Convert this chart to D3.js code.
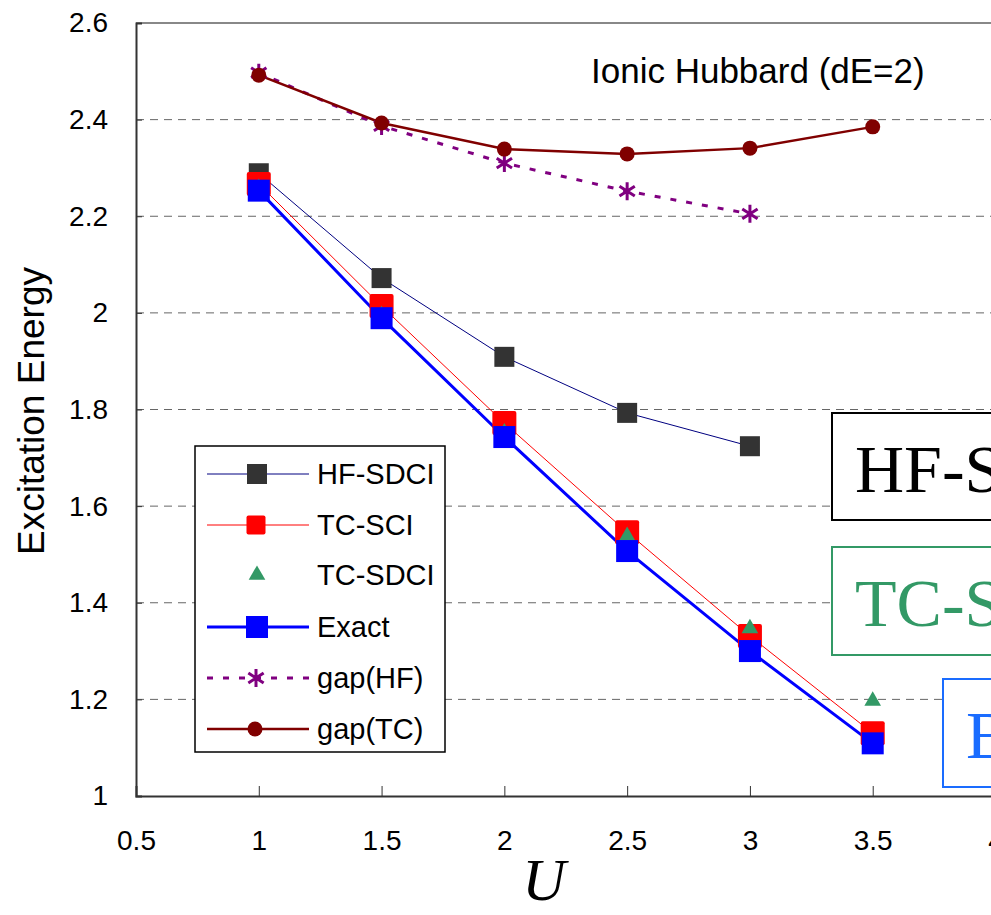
<!DOCTYPE html>
<html><head><meta charset="utf-8">
<script src="https://cdn.jsdelivr.net/npm/d3@7"></script>
<style>body{margin:0;background:#fff;overflow:hidden}svg{display:block}</style>
</head><body>
<script>
const U = [1, 1.5, 2, 2.5, 3, 3.5];
const hfSdci = [2.289, 2.072, 1.909, 1.793, 1.724];
const tcSci = [2.267, 2.014, 1.772, 1.546, 1.331, 1.130];
const tcSdci = [2.258, 1.995, 1.752, 1.538, 1.347, 1.197];
const exact = [2.253, 1.989, 1.743, 1.507, 1.300, 1.109];
const gapHF = [2.497, 2.387, 2.310, 2.252, 2.205];
const gapTC = [2.492, 2.393, 2.339, 2.329, 2.341, 2.385];
const xTicks = [0.5, 1, 1.5, 2, 2.5, 3, 3.5, 4];
const yTicks = [1, 1.2, 1.4, 1.6, 1.8, 2, 2.2, 2.4, 2.6];
const legendNames = ["HF-SDCI", "TC-SCI", "TC-SDCI", "Exact", "gap(HF)", "gap(TC)"];
const boxLabels = ["HF-SDCI", "TC-SDCI", "Exact"];

const W = 991, H = 915;
const svg = d3.select("body").append("svg").attr("width", W).attr("height", H);
const x = d3.scaleLinear().domain([0.5, 4]).range([136, 995.5]);
const y = d3.scaleLinear().domain([1, 2.6]).range([796, 23]);

// grid
svg.append("g").selectAll("line").data(yTicks.filter(v => v > 1 && v < 2.6)).join("line")
  .attr("x1", 136).attr("x2", W).attr("y1", d => y(d)).attr("y2", d => y(d))
  .attr("stroke", "#666").attr("stroke-width", 1).attr("stroke-dasharray", "8,6");
// top border
svg.append("line").attr("x1", 136).attr("x2", W).attr("y1", 23).attr("y2", 23).attr("stroke", "#888").attr("stroke-width", 2);

// axes
const font = "'Liberation Sans', Arial, sans-serif";
const yAxis = svg.append("g").attr("transform", "translate(136,0)")
  .call(d3.axisLeft(y).tickValues(yTicks).tickFormat(d3.format("~g")).tickSize(-6).tickPadding(28));
yAxis.select(".domain").attr("stroke", "#333").attr("stroke-width", 2);
yAxis.selectAll(".tick line").attr("stroke", "#333");
yAxis.selectAll("text").attr("font-family", font).attr("font-size", 28).attr("fill", "#000");
const xAxis = svg.append("g").attr("transform", "translate(0,796)")
  .call(d3.axisBottom(x).tickValues(xTicks).tickFormat(d3.format("~g")).tickSize(-10).tickPadding(34));
xAxis.select(".domain").attr("stroke", "#333").attr("stroke-width", 2);
xAxis.selectAll(".tick line").attr("stroke", "#333");
xAxis.selectAll("text").attr("font-family", font).attr("font-size", 28).attr("fill", "#000");

svg.append("text").attr("transform", "translate(44,411) rotate(-90)").attr("text-anchor", "middle")
  .attr("font-family", font).attr("font-size", 37).text("Excitation Energy");
svg.append("text").attr("x", 544).attr("y", 900).attr("text-anchor", "middle")
  .attr("font-family", "'Liberation Serif', serif").attr("font-style", "italic").attr("font-size", 60).text("U");
svg.append("text").attr("x", 591).attr("y", 83).attr("font-family", font).attr("font-size", 35).text("Ionic Hubbard (dE=2)");

const line = d3.line().x(d => x(d[0])).y(d => y(d[1]));
const pts = arr => arr.map((v, i) => [U[i], v]);

function drawLine(arr, color, w, dash) {
  svg.append("path").datum(pts(arr)).attr("d", line).attr("fill", "none")
    .attr("stroke", color).attr("stroke-width", w).attr("stroke-dasharray", dash || null);
}
function square(g, cx, cy, s, color, r) {
  g.append("rect").attr("x", cx - s / 2).attr("y", cy - s / 2).attr("width", s).attr("height", s)
    .attr("rx", r || 0).attr("fill", color);
}
function tri(g, cx, cy, color) {
  g.append("path").attr("d", d3.symbol(d3.symbolTriangle, 120)()).attr("transform", `translate(${cx},${cy})`).attr("fill", color);
}
function star(g, cx, cy, color) {
  const r = 9;
  const p = `M0,${-r}V${r}M${-r*0.85},${-r*0.55}L${r*0.85},${r*0.55}M${r*0.85},${-r*0.55}L${-r*0.85},${r*0.55}`;
  g.append("path").attr("d", p).attr("transform", `translate(${cx},${cy})`).attr("stroke", color).attr("stroke-width", 3).attr("fill", "none");
}
function circ(g, cx, cy, color) {
  g.append("circle").attr("cx", cx).attr("cy", cy).attr("r", 7.5).attr("fill", color);
}

drawLine(gapHF, "#800080", 3, "6,10");
drawLine(gapTC, "#800000", 2.5);
drawLine(hfSdci, "#000080", 1);
drawLine(tcSci, "#ff0000", 1);
drawLine(exact, "#0000ff", 3);
const mk = svg.append("g");
gapHF.forEach((v, i) => star(mk, x(U[i]), y(v), "#800080"));
gapTC.forEach((v, i) => circ(mk, x(U[i]), y(v), "#800000"));
hfSdci.forEach((v, i) => square(mk, x(U[i]), y(v), 20, "#333333"));
tcSci.forEach((v, i) => square(mk, x(U[i]), y(v), 24, "#ff0000", 2));
tcSdci.forEach((v, i) => tri(mk, x(U[i]), y(v), "#339966"));
exact.forEach((v, i) => square(mk, x(U[i]), y(v), 22, "#0000ff"));

// legend
const lg = svg.append("g");
lg.append("rect").attr("x", 195).attr("y", 446).attr("width", 250).attr("height", 306).attr("fill", "#fff").attr("stroke", "#000").attr("stroke-width", 1.5);
const ly = [474, 525, 575, 627, 678, 729];
const lx1 = 207, lx2 = 309, lc = 257;
lg.append("line").attr("x1", lx1).attr("x2", lx2).attr("y1", ly[0]).attr("y2", ly[0]).attr("stroke", "#000080").attr("stroke-width", 1);
square(lg, lc, ly[0], 20, "#333333");
lg.append("line").attr("x1", lx1).attr("x2", lx2).attr("y1", ly[1]).attr("y2", ly[1]).attr("stroke", "#ff0000").attr("stroke-width", 1);
square(lg, lc - 1, ly[1], 19, "#ff0000", 2);
tri(lg, lc, ly[2], "#339966");
lg.append("line").attr("x1", lx1).attr("x2", lx2).attr("y1", ly[3]).attr("y2", ly[3]).attr("stroke", "#0000ff").attr("stroke-width", 3);
square(lg, lc, ly[3], 22, "#0000ff");
lg.append("line").attr("x1", lx1).attr("x2", lx2).attr("y1", ly[4]).attr("y2", ly[4]).attr("stroke", "#800080").attr("stroke-width", 3).attr("stroke-dasharray", "6,10");
star(lg, lc - 1, ly[4], "#800080");
lg.append("line").attr("x1", lx1).attr("x2", lx2).attr("y1", ly[5]).attr("y2", ly[5]).attr("stroke", "#800000").attr("stroke-width", 2.5);
circ(lg, lc - 2, ly[5], "#800000");
legendNames.forEach((n, i) => lg.append("text").attr("x", 317).attr("y", ly[i] + 10).attr("font-family", font).attr("font-size", 29).text(n));

// method boxes on right
const boxes = [
  {c: "#000", x: 832, y: 413, h: 107},
  {c: "#339966", x: 832, y: 547, h: 108},
  {c: "#1a6cff", x: 943, y: 679, h: 108}
];
boxes.forEach((b, i) => {
  svg.append("rect").attr("x", b.x).attr("y", b.y).attr("width", 300).attr("height", b.h)
    .attr("fill", "#fff").attr("stroke", b.c).attr("stroke-width", 2);
  svg.append("text").attr("x", b.x + 23).attr("y", b.y + 79).attr("font-family", "'Liberation Serif', serif")
    .attr("font-size", 68).attr("fill", b.c).text(boxLabels[i]);
});
</script>
</body></html>
